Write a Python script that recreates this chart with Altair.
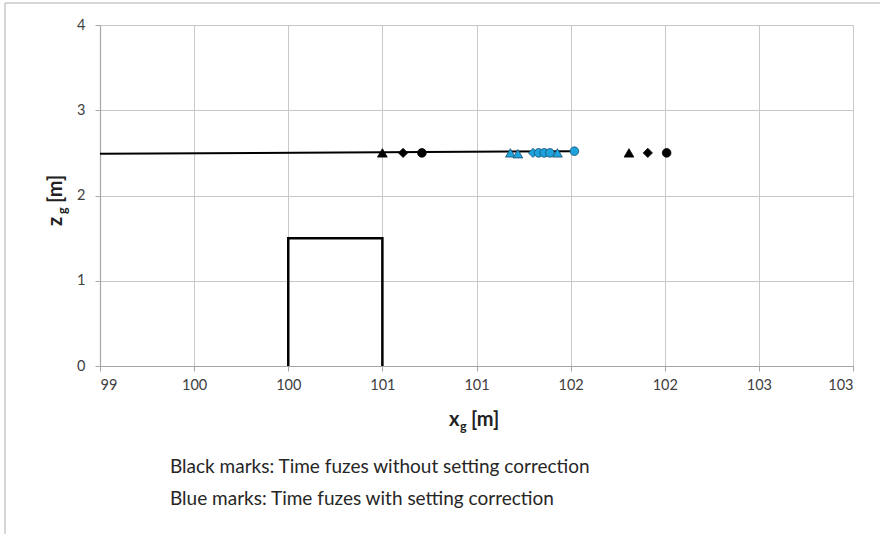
import altair as alt
import pandas as pd

# ---- data ----
traj_x = [99.0, 101.52]
traj_z = [2.49, 2.52]

house_x = [100.0, 100.0, 100.5, 100.5]
house_z = [0.0, 1.5, 1.5, 0.0]

black_tri_x = [100.50, 101.81]
black_tri_z = [2.50, 2.50]
black_dia_x = [100.61, 101.91]
black_dia_z = [2.50, 2.50]
black_cir_x = [100.71, 102.01]
black_cir_z = [2.50, 2.50]

blue_tri_x = [101.18, 101.22, 101.43]
blue_tri_z = [2.50, 2.49, 2.50]
blue_dia_x = [101.30]
blue_dia_z = [2.50]
blue_cir_x = [101.33, 101.36, 101.39, 101.52]
blue_cir_z = [2.50, 2.50, 2.50, 2.52]

x_ticks = [99, 99.5, 100, 100.5, 101, 101.5, 102, 102.5, 103]
z_ticks = [0, 1, 2, 3, 4]

note_lines = ["Black marks: Time fuzes without setting correction",
              "Blue marks: Time fuzes with setting correction"]

FONT = "Lato"

traj = pd.DataFrame({"x": traj_x, "z": traj_z, "o": range(len(traj_x))})
house = pd.DataFrame({"x": house_x, "z": house_z, "o": range(len(house_x))})

rows = []
def add(xs, zs, shape, group):
    for a, b in zip(xs, zs):
        rows.append({"x": a, "z": b, "shape": shape, "group": group})
add(black_tri_x, black_tri_z, "triangle", "without")
add(black_dia_x, black_dia_z, "diamond", "without")
add(black_cir_x, black_cir_z, "circle", "without")
add(blue_tri_x, blue_tri_z, "triangle", "with")
add(blue_dia_x, blue_dia_z, "diamond", "with")
add(blue_cir_x, blue_cir_z, "circle", "with")
pts = pd.DataFrame(rows)

xs = alt.Scale(domain=[99, 103], nice=False, zero=False)
zs = alt.Scale(domain=[0, 4], nice=False)

x_axis = alt.Axis(values=x_ticks, tickCount=len(x_ticks),
                  labelExpr="format(round(datum.value), 'd')",
                  title=None, grid=True, labelOverlap=False,
                  gridColor="#c8c8c8", domainColor="#a6a6a6", tickColor="#a6a6a6",
                  tickSize=5, labelFont=FONT, labelFontSize=14.5, labelColor="#404040",
                  labelPadding=7, domainWidth=1.2)
z_axis = alt.Axis(values=z_ticks, tickCount=len(z_ticks), format="d", title=None, grid=True,
                  labelOverlap=False,
                  gridColor="#c8c8c8", domainColor="#a6a6a6", tickColor="#a6a6a6",
                  tickSize=5, labelFont=FONT, labelFontSize=14.5, labelColor="#404040",
                  labelPadding=10, domainWidth=1.2)

base_line = alt.Chart(traj).mark_line(color="black", strokeWidth=2).encode(
    x=alt.X("x:Q", scale=xs, axis=x_axis),
    y=alt.Y("z:Q", scale=zs, axis=z_axis),
    order="o:Q",
)

house_line = alt.Chart(house).mark_line(color="black", strokeWidth=2.5).encode(
    x=alt.X("x:Q", scale=xs),
    y=alt.Y("z:Q", scale=zs),
    order="o:Q",
)

points = alt.Chart(pts).mark_point(filled=True, opacity=1, strokeWidth=0.8).encode(
    x=alt.X("x:Q", scale=xs),
    y=alt.Y("z:Q", scale=zs),
    shape=alt.Shape("shape:N", scale=alt.Scale(domain=["triangle", "diamond", "circle"],
                                               range=["triangle-up", "diamond", "circle"]),
                    legend=None),
    size=alt.Size("shape:N", scale=alt.Scale(domain=["triangle", "diamond", "circle"],
                                             range=[95, 75, 125]), legend=None),
    fill=alt.Fill("group:N", scale=alt.Scale(domain=["without", "with"],
                                             range=["#000000", "#1ea2dc"]), legend=None),
    stroke=alt.Stroke("group:N", scale=alt.Scale(domain=["without", "with"],
                                                 range=["#000000", "#1b4f6e"]), legend=None),
)

def txt(s, x, y, size, bold=False, angle=0, color="#222222"):
    return alt.Chart(pd.DataFrame({"t": [s]})).mark_text(
        align="left", baseline="alphabetic", font=FONT, fontSize=size,
        fontWeight="bold" if bold else "normal", angle=angle, color=color
    ).encode(text="t:N", x=alt.value(x), y=alt.value(y))

# axis titles with subscript
xt = [txt("x", 349, 401, 20, True), txt("g", 360, 406, 12.5, True), txt("[m]", 371, 401, 20, True)]
yt = [txt("z", -38, 201, 20, True, 270), txt("g", -33, 189, 12.5, True, 270),
      txt("[m]", -38, 178, 20, True, 270)]

notes = [txt(note_lines[0], 70, 448, 19, color="#262626"),
         txt(note_lines[1], 70, 480, 19, color="#262626")]

frame_top = alt.Chart(pd.DataFrame({"a": [0]})).mark_rule(color="#c8c8c8", strokeWidth=1.5).encode(
    x=alt.value(-95), x2=alt.value(790), y=alt.value(-22))
frame_left = alt.Chart(pd.DataFrame({"a": [0]})).mark_rule(color="#c8c8c8", strokeWidth=1.5).encode(
    x=alt.value(-95), y=alt.value(-22), y2=alt.value(520))

chart = alt.layer(frame_top, frame_left, base_line, house_line, points, *xt, *yt, *notes).properties(
    width=753, height=341,
    autosize=alt.AutoSizeParams(type="none"),
    padding={"left": 100, "top": 25, "right": 27, "bottom": 168},
    background="white",
).configure_view(stroke=None)

chart.save("out.html", embed_options={"renderer": "svg", "actions": False})
